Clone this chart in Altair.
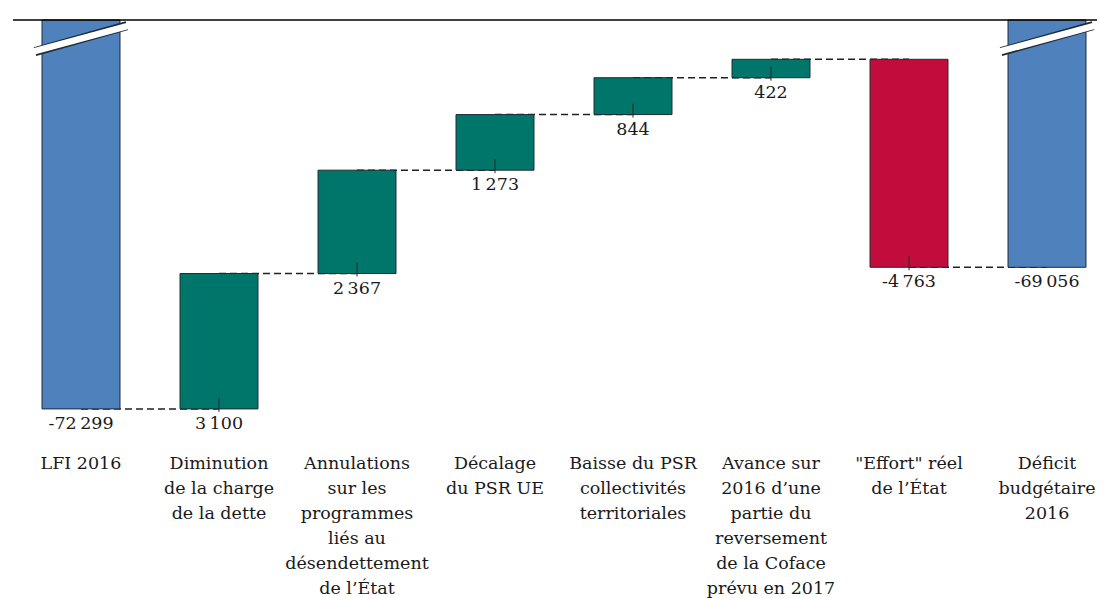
import altair as alt
import pandas as pd

# ---- data ----
categories = [
    "LFI 2016",
    "Diminution\nde la charge\nde la dette",
    "Annulations\nsur les\nprogrammes\nliés au\ndésendettement\nde l’État",
    "Décalage\ndu PSR UE",
    "Baisse du PSR\ncollectivités\nterritoriales",
    "Avance sur\n2016 d’une\npartie du\nreversement\nde la Coface\nprévu en 2017",
    "\"Effort\" réel\nde l’État",
    "Déficit\nbudgétaire\n2016",
]
values = [-72299, 3100, 2367, 1273, 844, 422, -4763, -69056]
kinds = ["total", "hausse", "hausse", "hausse", "hausse", "hausse", "baisse", "total"]
value_labels = ["-72\u2009299", "3\u2009100", "2\u2009367", "1\u2009273", "844", "422",
                "-4\u2009763", "-69\u2009056"]

kind_domain = ["total", "hausse", "baisse"]
kind_colors = ["#4F81BD", "#00756A", "#C20C3B"]

# axis break (value scale is cut at the top)
Y_MIN, Y_MAX = -73240, -63393
BREAK_AT = -63820

# ---- build tables ----
rows = []
running = 0
for c, v, k, lab in zip(categories, values, kinds, value_labels):
    if k == "total":
        start, end = Y_MAX, v
        running = v
        bottom = v
    else:
        start, end = running, running + v
        running = end
        bottom = min(start, end)
    rows.append(dict(cat=c, start=start, end=end, kind=k, label=lab,
                     bottom=bottom, level=running))
df = pd.DataFrame(rows)

conn = pd.DataFrame({
    "c0": categories[:-1],
    "c1": categories[1:],
    "level": [r["level"] for r in rows[:-1]],
})
deltas = df[df["kind"] != "total"]
totals = df[df["kind"] == "total"].assign(brk=BREAK_AT)

FONT = "DejaVu Serif"
FS = 17.5

xscale = alt.Scale(domain=categories, paddingInner=0.435, paddingOuter=0.145, align=0.725)
yscale = alt.Scale(domain=[Y_MIN, Y_MAX], nice=False, zero=False)

x_axis = alt.Axis(
    title=None, orient="bottom", domain=False, ticks=False, labelAngle=0,
    labelPadding=4, labelBaseline="top", labelFont=FONT, labelFontSize=FS,
    labelLineHeight=25, labelColor="#1a1a1a", labelOverlap=False, labelLimit=0,
    labelExpr="split(datum.label, '\\n')",
)

X = alt.X("cat:N", scale=xscale, axis=x_axis, sort=categories)

base = alt.Chart(df)

connectors = alt.Chart(conn).mark_rule(
    stroke="#222222", strokeWidth=1.5, strokeDash=[7, 4]
).encode(
    x=alt.X("c0:N", scale=xscale, axis=x_axis, sort=categories),
    x2="c1:N",
    y=alt.Y("level:Q", scale=yscale, axis=None),
)

bars = base.mark_bar(stroke="#1e2a36", strokeWidth=1).encode(
    x=X,
    y=alt.Y("start:Q", scale=yscale, axis=None),
    y2="end:Q",
    color=alt.Color("kind:N", scale=alt.Scale(domain=kind_domain, range=kind_colors), legend=None),
)

ticks = alt.Chart(deltas).mark_rule(
    stroke="#2a2a2a", strokeWidth=1, yOffset=3, y2Offset=-11
).encode(
    x=X,
    y=alt.Y("bottom:Q", scale=yscale, axis=None),
    y2="bottom:Q",
)

break_dark = alt.Chart(totals).mark_rule(
    stroke="#1e2a36", strokeWidth=9, xOffset=-46, x2Offset=46, yOffset=13, y2Offset=-13
).encode(
    x=X, x2="cat:N",
    y=alt.Y("brk:Q", scale=yscale, axis=None), y2="brk:Q",
)
break_white = alt.Chart(totals).mark_rule(
    stroke="#ffffff", strokeWidth=6.5, xOffset=-48, x2Offset=48, yOffset=13, y2Offset=-13
).encode(
    x=X, x2="cat:N",
    y=alt.Y("brk:Q", scale=yscale, axis=None), y2="brk:Q",
)

top_line = alt.Chart(pd.DataFrame({"top": [Y_MAX]})).mark_rule(
    stroke="#000000", strokeWidth=1.5
).encode(y=alt.Y("top:Q", scale=yscale, axis=None))

labels = base.mark_text(
    baseline="top", dy=6, font=FONT, fontSize=FS, color="#1a1a1a", align="center"
).encode(
    x=X,
    y=alt.Y("bottom:Q", scale=yscale, axis=None),
    text="label:N",
)

chart = alt.layer(
    connectors, bars, ticks, break_dark, break_white, top_line, labels
).properties(
    width=1084, height=430,
    padding={"left": 5, "top": 12, "right": 0, "bottom": 148},
    autosize=alt.AutoSizeParams(type="none"),
).configure(background="#ffffff").configure_view(stroke=None)

chart.save("out.html", embed_options={"renderer": "svg", "actions": False})
